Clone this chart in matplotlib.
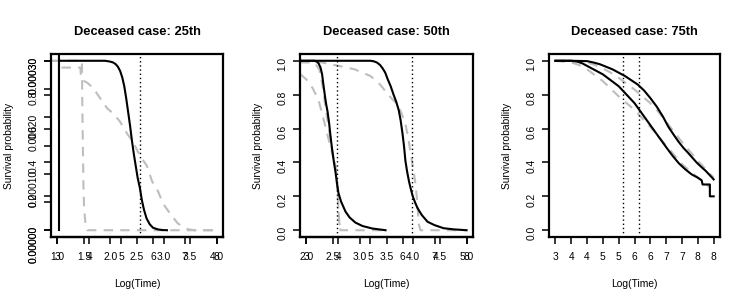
import matplotlib
matplotlib.use('Agg')
import matplotlib.pyplot as plt

plt.rcParams['font.family'] = ['Liberation Sans', 'DejaVu Sans']

GRAY = '#bebebe'

# ---- panel 1: deceased case 25th ----
p1_black_x = [3.06, 4.5, 4.66, 4.75, 4.83, 4.9, 4.97, 5.04, 5.1, 5.16, 5.22, 5.28, 5.34,
              5.4, 5.46, 5.52, 5.59, 5.65, 5.72, 5.8, 5.9, 6.0, 6.15, 6.3, 6.44]
p1_black_y = [1.0, 1.0, 0.995, 0.99, 0.98, 0.965, 0.94, 0.90, 0.85, 0.78, 0.70, 0.62, 0.53,
              0.45, 0.38, 0.31, 0.25, 0.18, 0.12, 0.07, 0.035, 0.015, 0.005, 0.001, 0.0]
p1_spike_x = 3.06
p1_spike2_x = 3.02
p1_spike2_bottom = 0.67
p1_grayA_x = [2.81, 3.77, 3.78, 3.80, 3.82, 3.84, 3.88, 3.94, 8.0]
p1_grayA_y = [1.0, 1.0, 0.80, 0.50, 0.25, 0.13, 0.04, 0.0, 0.0]
p1_grayB_x = [2.81, 3.12, 3.13, 3.72, 3.75, 3.94, 4.12, 4.34, 4.56, 4.75, 4.97, 5.19, 5.38,
              5.59, 5.81, 5.97, 6.16, 6.31, 6.53, 6.78, 7.09, 7.3, 8.0]
p1_grayB_y = [1.0, 1.0, 0.96, 0.96, 0.89, 0.87, 0.84, 0.78, 0.72, 0.69, 0.64, 0.57, 0.52,
              0.44, 0.38, 0.29, 0.23, 0.16, 0.10, 0.04, 0.006, 0.0, 0.0]
p1_vlines = [5.59]

# ---- panel 2: deceased case 50th ----
p2_black1_x = [2.81, 3.25, 3.32, 3.38, 3.44, 3.49, 3.53, 3.58, 3.62, 3.66, 3.71, 3.75, 3.8,
               3.86, 3.91, 3.96, 4.0, 4.08, 4.15, 4.22, 4.35, 4.53, 4.75, 5.06, 5.47]
p2_black1_y = [1.0, 1.0, 0.995, 0.985, 0.96, 0.92, 0.86, 0.79, 0.74, 0.70, 0.63, 0.56, 0.48,
               0.40, 0.34, 0.27, 0.22, 0.17, 0.14, 0.11, 0.075, 0.045, 0.025, 0.01, 0.0]
p2_black2_x = [2.81, 5.0, 5.1, 5.2, 5.3, 5.38, 5.46, 5.54, 5.63, 5.72, 5.8, 5.88, 5.94, 6.0,
               6.05, 6.09, 6.14, 6.2, 6.25, 6.32, 6.4, 6.47, 6.6, 6.78, 7.0, 7.28, 7.6, 8.0]
p2_black2_y = [1.0, 1.0, 0.997, 0.99, 0.975, 0.955, 0.93, 0.89, 0.85, 0.80, 0.76, 0.71, 0.65,
               0.57, 0.49, 0.41, 0.35, 0.29, 0.25, 0.20, 0.16, 0.13, 0.09, 0.05, 0.03, 0.012,
               0.005, 0.0]
p2_gray1_x = [2.81, 3.25, 3.4, 3.5, 3.6, 3.7, 3.8, 3.92, 3.98, 4.02, 4.06, 5.4]
p2_gray1_y = [0.99, 0.99, 0.95, 0.86, 0.72, 0.60, 0.48, 0.37, 0.20, 0.06, 0.0, 0.0]
p2_gray2_x = [2.81, 3.0, 3.19, 3.375, 3.53, 3.66, 3.8, 3.92, 3.98, 4.02, 4.06]
p2_gray2_y = [0.92, 0.89, 0.84, 0.77, 0.66, 0.56, 0.46, 0.37, 0.20, 0.06, 0.0]
p2_gray3_x = [2.81, 3.5, 4.0, 4.5, 5.0, 5.3, 5.55, 5.8, 5.95, 6.1, 6.2, 6.3,
              6.4, 6.47, 6.5, 6.56, 8.0]
p2_gray3_y = [1.0, 0.99, 0.97, 0.95, 0.91, 0.86, 0.80, 0.75, 0.70, 0.62, 0.52, 0.40,
              0.28, 0.15, 0.04, 0.0, 0.0]
p2_vlines = [3.97, 6.31]

# ---- panel 3: deceased case 75th ----
p3_upper_x = [3.0, 3.5, 4.0, 4.2, 4.4, 4.6, 4.8, 5.0, 5.2, 5.4, 5.6, 5.8, 6.0, 6.2, 6.4,
              6.57, 6.75, 6.9, 7.05, 7.2, 7.46, 7.6, 7.75, 7.9, 8.0]
p3_upper_y = [1.0, 1.0, 0.998, 0.99, 0.98, 0.965, 0.95, 0.93, 0.91, 0.885, 0.86, 0.825, 0.78,
              0.73, 0.67, 0.61, 0.56, 0.52, 0.485, 0.455, 0.40, 0.375, 0.35, 0.32, 0.30]
p3_lower_x = [3.0, 3.5, 3.7, 3.85, 4.0, 4.25, 4.5, 4.75, 5.0, 5.25, 5.5, 5.75, 6.0, 6.25,
              6.5, 6.7, 6.9, 7.1, 7.3, 7.5, 7.62, 7.65, 7.88, 7.88, 8.0]
p3_lower_y = [1.0, 1.0, 0.995, 0.985, 0.97, 0.945, 0.92, 0.885, 0.85, 0.80, 0.75, 0.685, 0.62,
              0.555, 0.49, 0.44, 0.395, 0.36, 0.33, 0.31, 0.295, 0.27, 0.27, 0.20, 0.20]
p3_gray_up_x = [3.0, 3.5, 4.0, 4.25, 4.5, 4.75, 5.0, 5.25, 5.5, 5.75, 6.0, 6.25, 6.5, 6.75,
                7.0, 7.25, 7.5, 7.75, 8.0]
p3_gray_up_y = [1.0, 1.0, 0.99, 0.975, 0.955, 0.93, 0.90, 0.865, 0.83, 0.79, 0.75, 0.70, 0.64,
                0.58, 0.52, 0.465, 0.41, 0.36, 0.31]
p3_gray_lo_x = [3.0, 3.5, 3.75, 4.0, 4.25, 4.5, 4.75, 5.0, 5.25, 5.5, 5.75, 6.0, 6.25, 6.5,
                6.75, 7.0, 7.25, 7.5, 7.7, 7.9]
p3_gray_lo_y = [1.0, 0.99, 0.975, 0.95, 0.915, 0.88, 0.835, 0.79, 0.75, 0.71, 0.66, 0.61, 0.555,
                0.50, 0.445, 0.39, 0.35, 0.31, 0.28, 0.25]
p3_vlines = [5.125, 5.63]

# ---- axis tick labels ----
x_ticks = [3, 4, 5, 6, 7, 8]
x_labels = ['3', '4', '5', '6', '7', '8']
y_ticks = [0.0, 0.2, 0.4, 0.6, 0.8, 1.0]
y_labels = ['0.0', '0.2', '0.4', '0.6', '0.8', '1.0']
p1_sec_x_ticks = [1.0, 1.5, 2.0, 2.5, 3.0, 3.5, 4.0]
p2_sec_x_ticks = [2.0, 2.5, 3.0, 3.5, 4.0, 4.5, 5.0]
p1_sec_y_ticks = [0.0, 0.00005, 0.0001, 0.00015, 0.0002, 0.00025, 0.0003]
p1_sec_y_labels = ['0.00000', '', '0.00010', '', '0.00020', '', '0.00030']
p1_sec_y_max = 0.0003
p3_x_ticks = [3, 3.5, 4, 4.5, 5, 5.5, 6, 6.5, 7, 7.5, 8]
p3_x_labels = ['3', '4', '4', '5', '5', '6', '6', '7', '7', '8', '8']

FS = 7.4


def style_ticks(axis_obj):
    axis_obj.tick_params(direction='out', length=5, width=1.1, labelsize=FS, pad=5.5)


def setup(ax, title):
    ax.set_xlim(2.8, 8.2)
    ax.set_ylim(-0.04, 1.04)
    for s in ax.spines.values():
        s.set_linewidth(1.6)
    style_ticks(ax)
    ax.tick_params(axis='y', labelrotation=90, pad=4)
    ax.set_yticks(y_ticks, y_labels)
    ax.set_title(title, fontsize=9.3, fontweight='bold', pad=14)
    ax.set_xlabel('Log(Time)', fontsize=FS)
    ax.set_ylabel('Survival probability', fontsize=FS)
    ax.xaxis.set_label_coords(0.5, -0.23)
    ax.yaxis.set_label_coords(-0.215, 0.5)


def sec_x(ax, offset, ticks):
    # second set of x labels drawn over the first one
    sx = ax.secondary_xaxis('bottom', functions=(lambda x: offset + 0.6 * (x - 3),
                                                 lambda v: 3 + (v - offset) / 0.6))
    sx.set_xticks(ticks, ['%.1f' % t for t in ticks])
    sx.spines['bottom'].set_linewidth(1.6)
    style_ticks(sx)
    return sx


def draw_lines(ax, vlines):
    for v in vlines:
        ax.axvline(v, color='black', lw=1.0, linestyle=(0, (1, 2)))


dash = (0, (4.5, 3.5))
fig = plt.figure(figsize=(7.47, 3.05), dpi=100)

# panel 1
ax1 = fig.add_axes([51 / 747, 68 / 305, 172 / 747, 183 / 305])
setup(ax1, 'Deceased case: 25th')
ax1.set_xticks(x_ticks, x_labels)
# second y scale (density) sharing the same left axis
ax1.set_yticks(y_ticks + [t / p1_sec_y_max for t in p1_sec_y_ticks], y_labels + p1_sec_y_labels)
ax1.plot(p1_grayA_x, p1_grayA_y, color=GRAY, lw=1.5, linestyle=dash)
ax1.plot(p1_grayB_x, p1_grayB_y, color=GRAY, lw=1.5, linestyle=dash)
ax1.plot(p1_black_x, p1_black_y, color='black', lw=1.5)
ax1.plot([p1_spike_x, p1_spike_x], [0.0, 1.05], color='black', lw=1.5)
ax1.plot([p1_spike2_x, p1_spike2_x], [p1_spike2_bottom, 1.05], color='black', lw=0.8)
draw_lines(ax1, p1_vlines)
sec_x(ax1, 1.0, p1_sec_x_ticks)

# panel 2
ax2 = fig.add_axes([300 / 747, 68 / 305, 173 / 747, 183 / 305])
setup(ax2, 'Deceased case: 50th')
ax2.set_xticks(x_ticks, x_labels)
ax2.plot(p2_gray1_x, p2_gray1_y, color=GRAY, lw=1.5, linestyle=dash)
ax2.plot(p2_gray2_x, p2_gray2_y, color=GRAY, lw=1.5, linestyle=dash)
ax2.plot(p2_gray3_x, p2_gray3_y, color=GRAY, lw=1.5, linestyle=dash)
ax2.plot(p2_black1_x, p2_black1_y, color='black', lw=1.5)
ax2.plot(p2_black2_x, p2_black2_y, color='black', lw=1.5)
draw_lines(ax2, p2_vlines)
sec_x(ax2, 2.0, p2_sec_x_ticks)

# panel 3
ax3 = fig.add_axes([549 / 747, 68 / 305, 171 / 747, 183 / 305])
setup(ax3, 'Deceased case: 75th')
ax3.set_xticks(p3_x_ticks, p3_x_labels)
ax3.plot(p3_gray_up_x, p3_gray_up_y, color=GRAY, lw=1.5, linestyle=dash)
ax3.plot(p3_gray_lo_x, p3_gray_lo_y, color=GRAY, lw=1.5, linestyle=dash)
ax3.plot(p3_upper_x, p3_upper_y, color='black', lw=1.5)
ax3.plot(p3_lower_x, p3_lower_y, color='black', lw=1.5)
draw_lines(ax3, p3_vlines)

fig.savefig('out.png', dpi=100)
